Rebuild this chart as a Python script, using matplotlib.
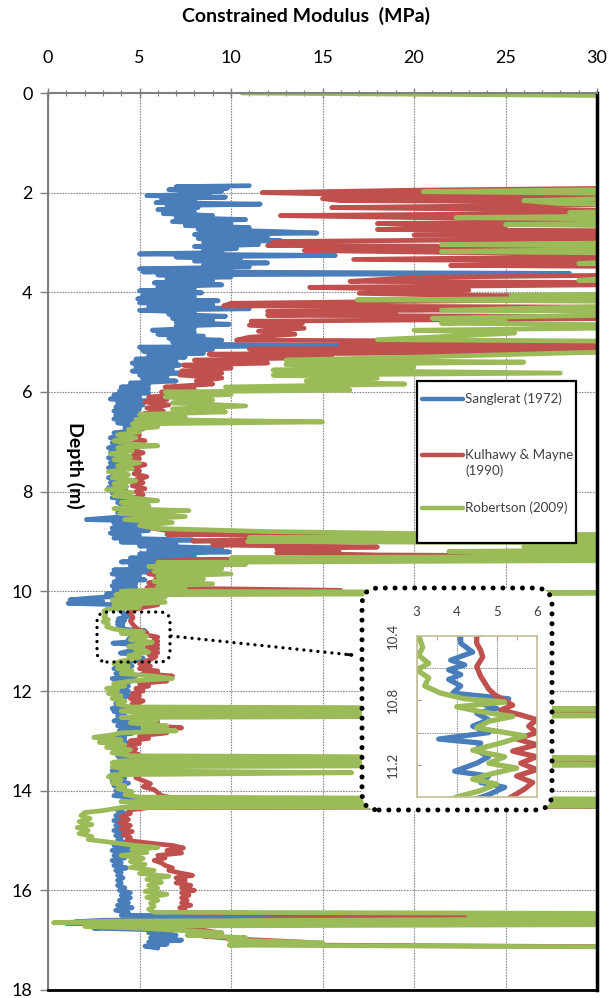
import matplotlib
matplotlib.use('Agg')
import matplotlib.pyplot as plt
from matplotlib.patches import FancyBboxPatch, Rectangle, FancyArrowPatch
from matplotlib.lines import Line2D

plt.rcParams['font.family'] = ['Lato', 'DejaVu Sans']

# ---------------- data (depth m, constrained modulus MPa; >30 runs off the chart) -------------
series_names = ["Sanglerat (1972)", "Kulhawy & Mayne\n(1990)", "Robertson (2009)"]
series_colors = ['#4a7ebb', '#c0504d', '#9bbb59']

sanglerat = [
    (1.86, 11.0), (1.88, 7.0), (1.91, 9.8), (1.94, 6.6), (1.97, 9.5), (2.00, 7.2), (2.03, 8.8), (2.06, 5.4),
    (2.09, 9.7), (2.12, 6.2), (2.16, 8.0), (2.20, 5.9), (2.23, 11.6), (2.26, 6.5), (2.30, 8.2), (2.34, 6.0),
    (2.38, 8.0), (2.42, 6.3), (2.46, 9.0), (2.50, 7.0), (2.54, 10.8), (2.58, 6.8), (2.62, 10.0), (2.66, 7.5),
    (2.70, 11.0), (2.74, 8.2), (2.78, 12.5), (2.81, 14.7), (2.84, 8.0), (2.88, 12.0), (2.92, 8.2), (2.96, 12.7),
    (3.00, 8.5), (3.04, 11.5), (3.08, 8.0), (3.12, 10.3), (3.16, 8.5), (3.20, 9.5), (3.23, 5.0), (3.26, 15.7),
    (3.29, 7.0), (3.33, 10.5), (3.37, 8.0), (3.41, 12.0), (3.45, 8.5), (3.49, 11.0), (3.53, 5.0), (3.56, 10.0),
    (3.59, 5.2), (3.62, 28.5), (3.65, 6.0), (3.69, 10.0), (3.73, 6.5), (3.77, 9.0), (3.81, 5.8), (3.85, 9.5),
    (3.89, 6.0), (3.93, 8.0), (3.97, 5.0), (4.01, 8.4), (4.05, 5.2), (4.09, 8.0), (4.13, 4.9), (4.17, 9.3),
    (4.21, 5.0), (4.25, 9.0), (4.29, 5.5), (4.33, 11.0), (4.36, 5.0), (4.40, 8.0), (4.44, 6.6), (4.48, 9.7),
    (4.52, 6.8), (4.56, 9.0), (4.60, 7.0), (4.64, 9.9), (4.68, 7.0), (4.72, 8.0), (4.76, 5.7), (4.80, 8.0),
    (4.84, 6.0), (4.88, 8.5), (4.92, 6.6), (4.96, 9.5), (5.00, 6.8), (5.04, 8.0), (5.07, 16.0), (5.10, 5.0),
    (5.14, 9.0), (5.18, 5.2), (5.22, 8.5), (5.26, 5.5), (5.30, 7.5), (5.34, 4.8), (5.38, 7.0), (5.42, 4.6),
    (5.46, 7.2), (5.50, 4.8), (5.54, 6.8), (5.58, 4.6), (5.62, 7.2), (5.66, 5.0), (5.70, 6.5), (5.74, 5.2),
    (5.78, 7.0), (5.82, 4.5), (5.86, 5.5), (5.90, 4.0), (5.94, 5.5), (5.98, 3.9), (6.02, 5.5), (6.06, 3.6),
    (6.10, 5.0), (6.14, 3.4), (6.18, 5.5), (6.22, 3.8), (6.26, 5.2), (6.30, 3.7), (6.34, 5.0), (6.38, 3.6),
    (6.42, 4.9), (6.46, 3.7), (6.50, 5.2), (6.54, 3.6), (6.58, 4.6), (6.62, 3.8), (6.67, 4.8), (6.72, 4.2),
    (6.77, 4.7), (6.82, 3.6), (6.87, 4.2), (6.92, 3.4), (6.97, 4.3), (7.02, 3.5), (7.07, 4.2), (7.12, 3.3),
    (7.17, 4.0), (7.22, 3.4), (7.27, 4.3), (7.32, 3.3), (7.37, 4.1), (7.42, 3.4), (7.47, 4.2), (7.52, 3.3),
    (7.57, 4.0), (7.62, 3.5), (7.67, 4.3), (7.72, 3.3), (7.77, 4.0), (7.82, 3.4), (7.87, 4.2), (7.92, 3.3),
    (7.97, 4.25), (8.02, 3.5), (8.07, 4.5), (8.12, 3.5), (8.17, 5.0), (8.22, 3.8), (8.27, 5.2), (8.32, 3.9),
    (8.37, 5.5), (8.42, 3.8), (8.47, 4.8), (8.52, 3.5), (8.56, 2.1), (8.59, 5.5), (8.63, 3.6), (8.68, 5.0),
    (8.73, 3.5), (8.78, 5.5), (8.83, 3.4), (8.88, 5.0), (8.93, 3.6), (8.97, 7.9), (9.01, 4.0), (9.05, 7.0),
    (9.09, 5.0), (9.13, 9.5), (9.17, 5.5), (9.21, 9.9), (9.25, 5.0), (9.29, 8.0), (9.33, 4.5), (9.37, 6.0),
    (9.41, 4.0), (9.45, 7.9), (9.49, 4.5), (9.53, 6.5), (9.57, 3.6), (9.61, 5.5), (9.65, 3.5), (9.69, 5.0),
    (9.73, 3.8), (9.77, 5.3), (9.81, 3.6), (9.85, 4.8), (9.89, 3.5), (9.93, 4.8), (9.97, 3.6), (10.01, 4.5),
    (10.05, 3.2), (10.09, 4.2), (10.13, 2.5), (10.17, 1.2), (10.21, 3.0), (10.24, 1.1), (10.27, 4.0), (10.31, 4.5),
    (10.35, 3.8), (10.40, 4.1), (10.445, 4.1), (10.50, 4.4), (10.55, 3.85), (10.58, 4.2), (10.61, 3.8), (10.64, 4.1),
    (10.67, 3.8), (10.71, 4.1), (10.755, 3.9), (10.79, 5.3), (10.82, 4.6), (10.85, 5.0), (10.88, 4.5), (10.92, 4.8),
    (10.96, 4.4), (11.00, 4.8), (11.04, 3.55), (11.065, 4.6), (11.11, 4.5), (11.15, 4.8), (11.19, 4.5), (11.24, 3.95),
    (11.27, 4.8), (11.31, 4.6), (11.34, 5.2), (11.385, 4.8), (11.42, 4.4), (11.46, 3.8), (11.50, 4.6), (11.55, 3.6),
    (11.60, 4.5), (11.65, 3.7), (11.70, 4.8), (11.75, 3.5), (11.80, 4.6), (11.85, 3.6), (11.90, 4.4), (11.95, 3.5),
    (12.00, 4.4), (12.05, 3.6), (12.10, 4.5), (12.15, 3.6), (12.20, 4.2), (12.25, 3.7), (12.30, 4.0), (12.35, 3.5),
    (12.38, 40.0), (12.41, 3.6), (12.45, 4.2), (12.50, 3.8), (12.55, 4.5), (12.60, 3.6), (12.65, 4.8), (12.70, 3.8),
    (12.75, 5.0), (12.80, 3.9), (12.85, 4.6), (12.90, 3.6), (12.95, 4.2), (13.00, 3.5), (13.05, 4.6), (13.10, 3.7),
    (13.15, 4.4), (13.20, 3.6), (13.25, 4.2), (13.30, 3.8), (13.36, 4.0), (13.42, 40.0), (13.46, 4.0), (13.50, 3.6),
    (13.55, 4.4), (13.60, 3.5), (13.65, 4.0), (13.70, 3.4), (13.75, 4.2), (13.80, 3.5), (13.85, 4.4), (13.90, 3.6),
    (13.95, 4.2), (14.00, 3.7), (14.05, 4.4), (14.10, 3.6), (14.15, 5.0), (14.22, 4.0), (14.26, 16.0), (14.30, 40.0),
    (14.34, 4.0), (14.40, 3.8), (14.45, 4.2), (14.50, 3.7), (14.55, 4.1), (14.60, 3.6), (14.65, 4.2), (14.70, 3.7),
    (14.75, 4.0), (14.80, 3.6), (14.85, 4.1), (14.90, 3.7), (14.95, 4.0), (15.00, 3.8), (15.05, 4.3), (15.10, 3.6),
    (15.15, 4.4), (15.20, 3.5), (15.25, 4.5), (15.30, 3.6), (15.35, 4.2), (15.40, 3.5), (15.45, 4.0), (15.50, 3.6),
    (15.55, 4.3), (15.60, 3.7), (15.65, 4.0), (15.70, 3.8), (15.75, 4.1), (15.80, 3.8), (15.85, 4.0), (15.90, 3.8),
    (15.95, 4.2), (16.00, 3.9), (16.05, 4.5), (16.10, 4.0), (16.15, 4.5), (16.20, 3.9), (16.25, 4.4), (16.30, 3.8),
    (16.35, 4.6), (16.40, 3.7), (16.45, 4.4), (16.50, 4.0), (16.56, 26.0), (16.60, 3.0), (16.63, 1.5), (16.67, 2.5),
    (16.72, 4.0), (16.76, 2.5), (16.80, 6.8), (16.85, 5.5), (16.90, 7.0), (16.95, 5.6), (17.00, 7.3), (17.04, 5.5),
    (17.08, 6.5), (17.12, 5.3), (17.16, 6.0),
]

kulhawy_mayne = [
    (0.00, 14.3), (0.03, 40.0),
    (1.88, 40.0), (1.95, 20.0), (2.00, 11.7), (2.03, 16.0), (2.06, 40.0), (2.12, 15.0), (2.16, 16.0), (2.20, 40.0),
    (2.30, 15.5), (2.34, 26.0), (2.38, 40.0), (2.46, 12.7), (2.50, 20.0), (2.54, 40.0), (2.62, 18.0), (2.68, 25.0),
    (2.74, 18.0), (2.78, 40.0), (2.85, 20.0), (2.90, 40.0), (2.98, 12.3), (3.02, 15.0), (3.06, 12.0), (3.10, 40.0),
    (3.16, 14.0), (3.20, 22.0), (3.24, 40.0), (3.34, 16.7), (3.40, 40.0), (3.46, 22.0), (3.50, 40.0), (3.62, 40.0),
    (3.70, 20.0), (3.78, 16.5), (3.82, 40.0), (3.90, 14.3), (3.96, 23.0), (4.02, 17.0), (4.06, 22.5), (4.10, 40.0),
    (4.22, 10.0), (4.27, 9.6), (4.31, 40.0), (4.38, 12.0), (4.42, 19.0), (4.46, 12.0), (4.50, 40.0), (4.58, 11.1),
    (4.62, 13.9), (4.66, 11.0), (4.72, 14.0), (4.78, 11.5), (4.84, 13.5), (4.90, 11.0), (4.96, 10.3), (5.00, 40.0),
    (5.05, 16.0), (5.08, 40.0), (5.14, 11.0), (5.18, 40.0), (5.24, 8.8), (5.30, 15.5), (5.36, 8.0), (5.42, 12.0),
    (5.46, 7.4), (5.52, 10.0), (5.58, 7.3), (5.62, 9.5), (5.66, 7.2), (5.72, 9.5), (5.78, 8.1), (5.84, 9.0),
    (5.90, 6.4), (5.95, 8.0), (6.00, 6.2), (6.05, 7.5), (6.10, 5.5), (6.15, 6.5), (6.20, 5.3), (6.26, 6.6),
    (6.32, 5.4), (6.38, 6.3), (6.44, 5.2), (6.50, 5.8), (6.56, 5.0), (6.62, 5.5), (6.68, 4.8), (6.74, 5.2),
    (6.80, 4.5), (6.86, 5.0), (6.92, 4.6), (6.98, 5.3), (7.04, 4.5), (7.10, 5.0), (7.16, 4.4), (7.22, 5.2),
    (7.28, 4.6), (7.34, 5.0), (7.40, 4.5), (7.46, 5.3), (7.52, 4.6), (7.58, 5.0), (7.64, 4.7), (7.70, 5.4),
    (7.76, 4.8), (7.82, 5.2), (7.88, 4.6), (7.94, 5.3), (8.00, 4.8), (8.06, 5.2), (8.12, 4.7), (8.18, 5.3),
    (8.24, 4.8), (8.30, 5.5), (8.36, 4.9), (8.42, 5.4), (8.48, 4.8), (8.54, 5.4), (8.60, 5.0), (8.66, 5.8),
    (8.72, 5.5), (8.78, 6.5), (8.82, 9.5), (8.86, 6.5), (8.90, 40.0), (8.95, 12.0), (8.99, 7.9), (9.03, 15.0),
    (9.07, 9.0), (9.11, 18.0), (9.15, 12.5), (9.19, 15.9), (9.23, 12.5), (9.27, 18.0), (9.31, 40.0), (9.36, 8.0),
    (9.40, 6.0), (9.44, 7.5), (9.48, 6.0), (9.52, 8.0), (9.56, 5.8), (9.60, 6.5), (9.65, 5.5), (9.70, 6.5),
    (9.74, 5.9), (9.78, 6.2), (9.83, 5.5), (9.88, 6.0), (9.93, 5.4), (9.98, 16.0), (10.02, 5.5), (10.07, 6.0),
    (10.12, 5.4), (10.17, 6.0), (10.22, 5.6), (10.27, 6.0), (10.32, 5.2), (10.36, 4.8), (10.40, 4.5), (10.445, 4.5),
    (10.49, 4.6), (10.53, 4.65), (10.59, 4.5), (10.65, 4.6), (10.69, 4.7), (10.73, 4.8), (10.765, 4.95), (10.80, 5.2),
    (10.83, 5.4), (10.86, 5.1), (10.89, 5.6), (10.92, 6.0), (10.96, 5.8), (11.00, 6.0), (11.04, 5.5), (11.075, 6.0),
    (11.115, 5.4), (11.15, 6.0), (11.19, 5.6), (11.23, 6.0), (11.27, 5.5), (11.31, 5.9), (11.35, 5.7), (11.395, 5.4),
    (11.45, 5.0), (11.50, 5.6), (11.55, 5.0), (11.60, 6.0), (11.65, 5.2), (11.70, 6.8), (11.75, 5.4), (11.80, 6.5),
    (11.85, 5.0), (11.90, 5.5), (11.95, 4.8), (12.00, 5.2), (12.05, 4.6), (12.10, 5.0), (12.15, 4.5), (12.20, 5.2),
    (12.25, 4.6), (12.30, 5.0), (12.36, 4.8), (12.40, 40.0), (12.44, 5.0), (12.50, 5.5), (12.56, 4.8), (12.62, 6.0),
    (12.68, 5.2), (12.74, 7.3), (12.78, 5.5), (12.84, 6.5), (12.90, 5.0), (12.95, 5.5), (13.00, 4.5), (13.05, 5.0),
    (13.10, 4.3), (13.16, 4.8), (13.22, 4.5), (13.28, 5.0), (13.34, 4.6), (13.40, 40.0), (13.44, 5.0), (13.50, 4.6),
    (13.56, 5.0), (13.62, 4.5), (13.68, 5.0), (13.74, 4.8), (13.80, 5.2), (13.86, 5.6), (13.92, 5.2), (13.98, 5.8),
    (14.04, 6.0), (14.10, 6.2), (14.16, 7.0), (14.22, 8.0), (14.28, 12.0), (14.31, 40.0), (14.34, 5.5), (14.38, 4.6),
    (14.42, 4.4), (14.46, 4.5), (14.52, 4.0), (14.58, 4.4), (14.64, 3.9), (14.70, 4.5), (14.76, 4.0), (14.82, 4.6),
    (14.88, 4.1), (14.94, 4.5), (15.00, 4.3), (15.05, 5.5), (15.10, 6.8), (15.15, 7.4), (15.20, 6.5), (15.25, 7.3),
    (15.30, 6.0), (15.35, 6.4), (15.40, 5.8), (15.45, 6.2), (15.50, 6.4), (15.55, 6.8), (15.60, 6.6), (15.65, 7.2),
    (15.70, 7.9), (15.75, 7.0), (15.80, 7.5), (15.85, 7.0), (15.90, 7.8), (15.95, 7.3), (16.00, 8.0), (16.05, 7.3),
    (16.10, 7.7), (16.15, 7.3), (16.20, 7.6), (16.25, 7.3), (16.30, 7.8), (16.35, 7.2), (16.40, 7.5), (16.45, 7.4),
    (16.52, 20.0), (16.56, 26.0), (16.59, 40.0), (16.62, 8.0), (16.66, 1.0), (16.70, 6.0), (16.75, 4.5), (16.80, 8.5),
    (16.86, 9.5), (16.92, 8.5), (16.98, 10.5), (17.04, 14.0), (17.10, 15.0), (17.15, 40.0), (17.18, 40.0),
]

robertson = [
    (0.00, 10.6), (0.075, 40.0),
    (1.90, 40.0), (1.98, 20.5), (2.04, 40.0), (2.16, 26.0), (2.22, 28.0), (2.28, 40.0), (2.40, 28.5), (2.44, 40.0),
    (2.50, 22.3), (2.56, 40.0), (2.64, 25.0), (2.70, 40.0), (2.98, 40.0), (3.04, 21.5), (3.10, 40.0), (3.18, 21.5),
    (3.24, 40.0), (3.42, 29.0), (3.46, 40.0), (3.76, 29.0), (3.80, 40.0), (4.00, 40.0), (4.06, 25.3), (4.10, 40.0),
    (4.15, 16.9), (4.20, 40.0), (4.36, 21.5), (4.40, 40.0), (4.52, 21.0), (4.58, 25.0), (4.62, 21.5), (4.68, 40.0),
    (4.76, 20.0), (4.82, 25.5), (4.88, 22.0), (4.95, 18.0), (5.00, 40.0), (5.12, 40.0), (5.20, 30.0), (5.30, 20.0),
    (5.36, 13.0), (5.40, 26.0), (5.45, 13.0), (5.50, 20.0), (5.56, 12.3), (5.62, 28.0), (5.66, 12.3), (5.72, 18.0),
    (5.78, 14.1), (5.84, 19.5), (5.90, 9.7), (5.96, 16.5), (6.00, 6.4), (6.05, 10.0), (6.10, 6.4), (6.16, 9.0),
    (6.22, 6.8), (6.28, 10.8), (6.34, 6.8), (6.40, 9.7), (6.45, 5.0), (6.50, 7.5), (6.55, 4.8), (6.60, 15.0),
    (6.64, 4.6), (6.70, 6.0), (6.75, 4.4), (6.80, 5.0), (6.86, 3.8), (6.92, 4.8), (6.98, 3.6), (7.04, 4.4),
    (7.08, 6.0), (7.12, 3.8), (7.18, 4.6), (7.24, 3.4), (7.30, 4.5), (7.36, 3.6), (7.42, 5.0), (7.48, 3.8),
    (7.54, 4.6), (7.60, 3.3), (7.66, 4.4), (7.72, 3.5), (7.78, 4.8), (7.84, 3.6), (7.90, 4.3), (7.96, 3.2),
    (8.02, 4.6), (8.08, 3.6), (8.14, 5.0), (8.18, 6.0), (8.22, 4.0), (8.28, 5.5), (8.34, 3.6), (8.38, 7.7),
    (8.44, 3.9), (8.50, 7.5), (8.56, 4.2), (8.62, 6.8), (8.68, 5.0), (8.74, 6.0), (8.80, 12.0), (8.84, 20.0),
    (8.88, 40.0), (8.92, 11.0), (8.96, 40.0), (9.00, 10.9), (9.04, 40.0), (9.10, 26.0), (9.14, 40.0), (9.20, 21.9),
    (9.24, 26.7), (9.28, 40.0), (9.33, 10.0), (9.37, 40.0), (9.42, 6.0), (9.46, 10.8), (9.50, 5.5), (9.55, 9.5),
    (9.60, 5.8), (9.65, 10.0), (9.70, 6.0), (9.75, 8.5), (9.80, 5.8), (9.85, 9.0), (9.90, 6.0), (9.95, 7.5),
    (10.00, 4.0), (10.03, 40.0), (10.07, 3.7), (10.12, 6.4), (10.17, 3.5), (10.22, 6.4), (10.27, 3.6), (10.32, 5.0),
    (10.36, 3.2), (10.40, 3.05), (10.47, 3.15), (10.52, 3.05), (10.57, 3.3), (10.61, 3.0), (10.66, 3.3), (10.71, 3.2),
    (10.755, 3.6), (10.79, 4.2), (10.81, 5.2), (10.84, 4.0), (10.87, 4.6), (10.90, 5.4), (10.93, 4.8), (10.97, 4.5),
    (11.02, 5.7), (11.065, 5.1), (11.11, 4.4), (11.15, 5.2), (11.19, 4.8), (11.22, 5.5), (11.26, 4.8), (11.29, 4.4),
    (11.32, 5.0), (11.36, 4.6), (11.40, 4.0), (11.45, 3.6), (11.50, 4.4), (11.55, 3.8), (11.60, 4.6), (11.65, 4.0),
    (11.70, 5.8), (11.75, 6.8), (11.80, 4.5), (11.85, 3.6), (11.90, 4.2), (11.95, 3.2), (12.00, 3.8), (12.05, 3.3),
    (12.10, 4.0), (12.15, 3.5), (12.20, 4.2), (12.26, 3.8), (12.32, 4.5), (12.36, 40.0), (12.40, 4.0), (12.45, 5.0),
    (12.49, 40.0), (12.53, 4.0), (12.58, 6.0), (12.64, 4.5), (12.70, 6.5), (12.75, 5.2), (12.80, 7.0), (12.84, 4.0),
    (12.88, 3.5), (12.93, 2.5), (12.98, 4.0), (13.03, 2.8), (13.08, 4.2), (13.13, 3.2), (13.18, 4.5), (13.24, 3.5),
    (13.30, 4.5), (13.35, 40.0), (13.40, 4.0), (13.44, 3.5), (13.48, 40.0), (13.52, 3.5), (13.56, 4.2), (13.60, 4.0),
    (13.64, 16.6), (13.68, 3.6), (13.72, 3.3), (13.78, 4.0), (13.84, 3.5), (13.90, 4.2), (13.96, 3.8), (14.02, 4.6),
    (14.08, 4.2), (14.13, 5.0), (14.18, 40.0), (14.22, 4.0), (14.26, 5.0), (14.30, 40.0), (14.34, 4.0), (14.40, 3.0),
    (14.44, 2.0), (14.50, 1.8), (14.56, 2.3), (14.62, 1.7), (14.68, 2.4), (14.74, 1.6), (14.80, 2.2), (14.86, 1.7),
    (14.92, 2.4), (14.98, 2.2), (15.04, 3.5), (15.10, 4.8), (15.14, 6.0), (15.18, 4.6), (15.24, 5.4), (15.30, 4.0),
    (15.36, 5.2), (15.42, 4.5), (15.48, 5.3), (15.54, 4.5), (15.60, 5.8), (15.66, 5.0), (15.72, 6.6), (15.78, 5.4),
    (15.84, 6.2), (15.90, 5.5), (15.96, 6.0), (16.02, 5.3), (16.08, 6.5), (16.14, 5.4), (16.20, 6.0), (16.26, 5.6),
    (16.32, 5.8), (16.38, 5.5), (16.44, 5.8), (16.47, 40.0), (16.52, 23.0), (16.56, 40.0), (16.62, 3.0), (16.65, 0.3),
    (16.68, 40.0), (16.72, 2.0), (16.76, 5.0), (16.80, 7.0), (16.85, 9.5), (16.90, 7.6), (16.95, 10.8), (17.00, 9.9),
    (17.05, 15.0), (17.10, 9.9), (17.15, 40.0), (17.18, 40.0),
]

x_ticks = [0, 5, 10, 15, 20, 25, 30]
y_ticks = [0, 2, 4, 6, 8, 10, 12, 14, 16, 18]
inset_x_ticks = [3, 4, 5, 6]
inset_y_ticks = [10.4, 10.8, 11.2]
inset_y_grid = [10.6, 10.8, 11.0, 11.2]

all_series = [sanglerat, kulhawy_mayne, robertson]

# ---------------- figure ----------------
W, H = 613, 998
fig = plt.figure(figsize=(W / 100, H / 100), dpi=100)
ax = fig.add_axes([48 / W, 1 - 990 / H, 549 / W, 897 / H])

for data, col in zip(all_series, series_colors):
    d = [p[0] for p in data]
    m = [p[1] for p in data]
    ax.plot(m, d, color=col, lw=3.4, solid_joinstyle='round', solid_capstyle='round', zorder=2)

ax.set_xlim(0, 30)
ax.set_ylim(18, 0)
ax.xaxis.tick_top()
ax.set_xticks(x_ticks)
ax.set_xticks(range(0, 31), minor=True)
ax.set_yticks(y_ticks)
ax.tick_params(axis='x', which='major', direction='inout', length=7, width=1, colors='#7f7f7f',
               labelcolor='black', labelsize=13, pad=16)
ax.tick_params(axis='x', which='minor', direction='inout', length=5, width=0.8, colors='#7f7f7f')
ax.tick_params(axis='y', which='major', direction='out', length=6, width=1, colors='#7f7f7f',
               labelcolor='black', labelsize=13, pad=5)
ax.grid(True, which='major', color='#8c8c8c', linestyle=(0, (1.5, 1.0)), linewidth=0.8, zorder=1)
ax.set_axisbelow(True)
for s in ['left', 'top']:
    ax.spines[s].set_color('#7f7f7f')
    ax.spines[s].set_linewidth(1.5)
ax.spines['right'].set_color('black')
ax.spines['right'].set_linewidth(2.5)
ax.spines['bottom'].set_color('black')
ax.spines['bottom'].set_linewidth(2.0)

fig.text(306 / W, 1 - 16 / H, 'Constrained Modulus  (MPa)', ha='center', va='center',
         fontsize=14, fontweight='bold')
ax.text(0.05, 0.585, 'Depth (m)', transform=ax.transAxes, rotation=270, ha='center', va='center',
        fontsize=14, fontweight='bold', zorder=4)

# ---------------- legend ----------------
inch = fig.dpi_scale_trans
def px(x, y):
    return x / 100, (H - y) / 100

leg_box = Rectangle(px(417, 543), 159 / 100, 162 / 100, transform=inch, facecolor='white',
                    edgecolor='black', lw=1.6, zorder=5)
fig.add_artist(leg_box)
leg_y = [399, 463, 508]
for name, col, yy in zip(series_names, series_colors, leg_y):
    line_y = yy if '\n' not in name else 455
    x0, y0 = px(422, line_y)
    x1, _ = px(463, line_y)
    fig.add_artist(Line2D([x0, x1], [y0, y0], transform=inch, color=col, lw=3.2,
                          solid_capstyle='round', zorder=6))
    tx, ty = px(465, yy)
    fig.text(tx / (W / 100), ty / (H / 100), name, ha='left', va='center', fontsize=9.6,
             color='#404040', linespacing=1.3, zorder=6)

# ---------------- zoom boxes ----------------
big = FancyBboxPatch(px(362, 810), 190 / 100, 222 / 100, transform=inch,
                     boxstyle='round,pad=0,rounding_size=0.17', facecolor='white', edgecolor='black',
                     lw=3.6, linestyle=(0, (0.01, 1.95)), capstyle='round', zorder=3)
fig.add_artist(big)
small = FancyBboxPatch(px(97, 662), 73 / 100, 50 / 100, transform=inch,
                       boxstyle='round,pad=0,rounding_size=0.1', facecolor='none', edgecolor='black',
                       lw=2.4, linestyle=(0, (0.01, 2.1)), capstyle='round', zorder=3)
fig.add_artist(small)
ax0, ay0 = px(171, 636)
ax1, ay1 = px(352, 655)
fig.add_artist(Line2D([ax0, ax1], [ay0, ay1], transform=inch, color='black', lw=2.4,
                      linestyle=(0, (0.01, 2.1)), dash_capstyle='round', zorder=3))
hx0, hy0 = px(345, 654.3)
hx1, hy1 = px(357, 655.5)
fig.add_artist(FancyArrowPatch((hx0, hy0), (hx1, hy1), transform=inch, arrowstyle='->,head_length=0.55,head_width=0.4',
                               color='black', lw=2.0, zorder=3))

# ---------------- inset ----------------
axi = fig.add_axes([416.7 / W, 1 - 797 / H, 120 / W, 161 / H])
axi.set_zorder(4)
for data, col in zip(all_series, series_colors):
    d = [p[0] for p in data]
    m = [p[1] for p in data]
    axi.plot(m, d, color=col, lw=3.8, solid_joinstyle='round', solid_capstyle='round', zorder=2)
axi.set_xlim(3, 6)
axi.set_ylim(11.4, 10.4)
axi.xaxis.tick_top()
axi.set_xticks(inset_x_ticks)
axi.set_xticks([3.5, 4.5, 5.5], minor=True)
axi.set_yticks(inset_y_ticks)
axi.set_yticks(inset_y_grid, minor=True)
axi.set_yticklabels([f'{v:.1f}' for v in inset_y_ticks], rotation=90, va='center')
axi.tick_params(axis='x', which='both', direction='in', length=3, colors='#a09a80', labelcolor='#404040',
                labelsize=9.5, pad=13)
axi.tick_params(axis='y', which='both', direction='in', length=3, colors='#a09a80', labelcolor='#404040',
                labelsize=9.5, pad=13)
axi.grid(True, which='major', axis='x', color='#8c8c8c', linestyle=(0, (1.5, 1.0)), linewidth=0.7)
axi.grid(True, which='minor', axis='y', color='#8c8c8c', linestyle=(0, (1.5, 1.0)), linewidth=0.7)
axi.set_axisbelow(True)
for s in axi.spines.values():
    s.set_color('#c4bd97')
    s.set_linewidth(1.2)

fig.savefig('out.png', dpi=100)
